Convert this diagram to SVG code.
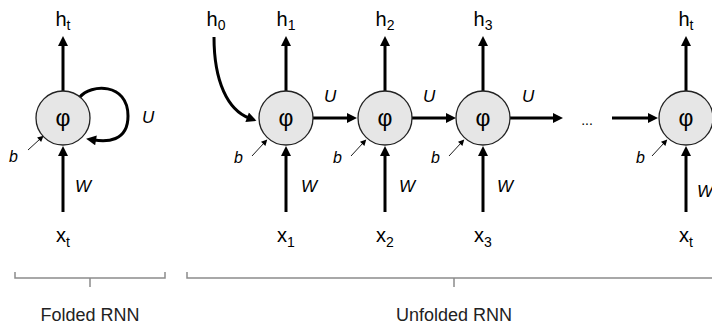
<svg xmlns="http://www.w3.org/2000/svg" width="712" height="326" viewBox="0 0 712 326">
<style>
.lbl{font-family:"Liberation Sans",Arial,sans-serif;font-size:20px;fill:#000;text-anchor:middle}
.sub{font-size:14px}
.it{font-family:"Liberation Sans",Arial,sans-serif;font-style:italic;fill:#000}
.phi{font-family:"Liberation Sans",Arial,sans-serif;font-size:23px;fill:#000;text-anchor:middle}
.node{fill:#e6e6e6;stroke:#222;stroke-width:1.3}
.arr{stroke:#000;stroke-width:3;fill:none;marker-end:url(#ah)}
.thin{stroke:#000;stroke-width:0.9;fill:none;marker-end:url(#sh)}
.br{stroke:#8c8c8c;stroke-width:1.5;fill:none}
.cap{font-family:"Liberation Sans",Arial,sans-serif;font-size:18px;fill:#222;text-anchor:middle}
</style>
<defs>
<marker id="ah" viewBox="0 0 10 10" refX="2" refY="5" markerWidth="11" markerHeight="10" markerUnits="userSpaceOnUse" orient="auto">
<path d="M0,0 L10,5 L0,10 z" fill="#000"/>
</marker>
<marker id="sh" viewBox="0 0 10 10" refX="2" refY="5" markerWidth="7" markerHeight="6" markerUnits="userSpaceOnUse" orient="auto">
<path d="M0,0 L10,5 L0,10 z" fill="#000"/>
</marker>
</defs>

<g id="connectors">
<line class="arr" x1="63" y1="91" x2="63" y2="44"/>
<line class="arr" x1="63" y1="212" x2="63" y2="154"/>
<path class="arr" d="M80 97 C90 84,128 82,128 116 C128 142,106 142,94 140"/>
<line class="thin" x1="28" y1="150" x2="40" y2="139"/>
<path class="arr" d="M214 37 C214 82,228 110,249 118"/>
<line class="arr" x1="286" y1="91" x2="286" y2="44"/>
<line class="arr" x1="286" y1="212" x2="286" y2="154"/>
<line class="thin" x1="252" y1="156" x2="264" y2="143"/>
<line class="arr" x1="313" y1="118" x2="349" y2="118"/>
<line class="arr" x1="385" y1="91" x2="385" y2="44"/>
<line class="arr" x1="385" y1="212" x2="385" y2="154"/>
<line class="thin" x1="351" y1="156" x2="363" y2="143"/>
<line class="arr" x1="412" y1="118" x2="448" y2="118"/>
<line class="arr" x1="483" y1="91" x2="483" y2="44"/>
<line class="arr" x1="483" y1="212" x2="483" y2="154"/>
<line class="thin" x1="449" y1="156" x2="461" y2="143"/>
<line class="arr" x1="510" y1="118" x2="555" y2="118"/>
<line class="arr" x1="612" y1="118" x2="650" y2="118"/>
<line class="arr" x1="686" y1="91" x2="686" y2="44"/>
<line class="arr" x1="686" y1="212" x2="686" y2="154"/>
<line class="thin" x1="652" y1="156" x2="664" y2="143"/>
</g>

<g id="node-folded">
<circle class="node" cx="63" cy="118" r="27"/>
<text class="phi" x="63" y="126">φ</text>
<text class="lbl" x="63" y="26">h<tspan class="sub" dy="4">t</tspan></text>
<text class="lbl" x="63" y="242">x<tspan class="sub" dy="5">t</tspan></text>
<text class="it" x="142" y="123" font-size="17">U</text>
<text class="it" x="75" y="192" font-size="17">W</text>
<text class="it" x="9" y="162" font-size="16">b</text>
</g>

<g id="h0">
<text class="lbl" x="216" y="26">h<tspan class="sub" dy="4">0</tspan></text>
</g>

<g id="node-1">
<circle class="node" cx="286" cy="118" r="27"/>
<text class="phi" x="286" y="126">φ</text>
<text class="lbl" x="286" y="26">h<tspan class="sub" dy="4">1</tspan></text>
<text class="lbl" x="286" y="242">x<tspan class="sub" dy="5">1</tspan></text>
<text class="it" x="324" y="102" font-size="17">U</text>
<text class="it" x="301" y="192" font-size="17">W</text>
<text class="it" x="234" y="163" font-size="16">b</text>
</g>

<g id="node-2">
<circle class="node" cx="385" cy="118" r="27"/>
<text class="phi" x="385" y="126">φ</text>
<text class="lbl" x="385" y="26">h<tspan class="sub" dy="4">2</tspan></text>
<text class="lbl" x="385" y="242">x<tspan class="sub" dy="5">2</tspan></text>
<text class="it" x="423" y="102" font-size="17">U</text>
<text class="it" x="399" y="192" font-size="17">W</text>
<text class="it" x="333" y="163" font-size="16">b</text>
</g>

<g id="node-3">
<circle class="node" cx="483" cy="118" r="27"/>
<text class="phi" x="483" y="126">φ</text>
<text class="lbl" x="483" y="26">h<tspan class="sub" dy="4">3</tspan></text>
<text class="lbl" x="483" y="242">x<tspan class="sub" dy="5">3</tspan></text>
<text class="it" x="522" y="102" font-size="17">U</text>
<text class="it" x="497" y="192" font-size="17">W</text>
<text class="it" x="431" y="163" font-size="16">b</text>
</g>

<g id="ellipsis">
<text x="587" y="125" font-family="Liberation Sans, Arial, sans-serif" font-size="14" text-anchor="middle" fill="#000">...</text>
</g>

<g id="node-t">
<circle class="node" cx="686" cy="118" r="27"/>
<text class="phi" x="686" y="126">φ</text>
<text class="lbl" x="686" y="26">h<tspan class="sub" dy="4">t</tspan></text>
<text class="lbl" x="686" y="242">x<tspan class="sub" dy="5">t</tspan></text>
<text class="it" x="697" y="197" font-size="17">W</text>
<text class="it" x="636" y="163" font-size="16">b</text>
</g>

<g id="brackets">
<path class="br" d="M15 272 V278 H165 V272 M90 278 V287"/>
<path class="br" d="M187 272 V278 H712 M454 278 V287"/>
<text class="cap" x="90" y="321">Folded RNN</text>
<text class="cap" x="454" y="321">Unfolded RNN</text>
</g>
</svg>
